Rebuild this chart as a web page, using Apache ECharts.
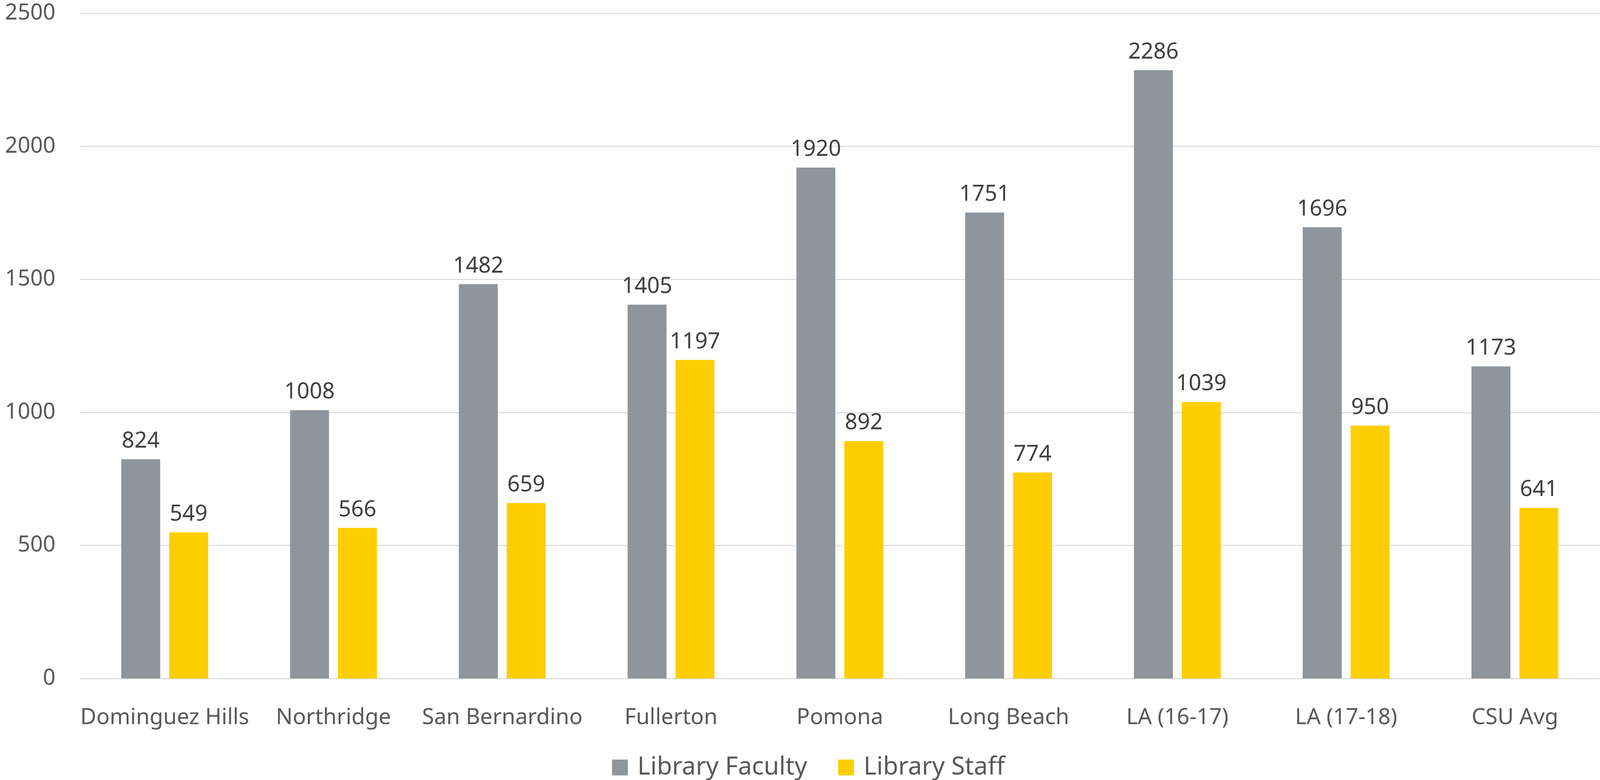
<!DOCTYPE html>
<html>
<head>
<meta charset="utf-8">
<script src="https://cdn.jsdelivr.net/npm/echarts@6/dist/echarts.min.js"></script>
<style>
html,body{margin:0;padding:0;background:#fff;overflow:hidden;}
#chart{width:100vw;height:100vh;}
</style>
</head>
<body>
<div id="chart"></div>
<script>
const categories = ['Dominguez Hills','Northridge','San Bernardino','Fullerton','Pomona','Long Beach','LA (16-17)','LA (17-18)','CSU Avg'];
const facultyValues = [824, 1008, 1482, 1405, 1920, 1751, 2286, 1696, 1173];
const staffValues = [549, 566, 659, 1197, 892, 774, 1039, 950, 641];
const yTicks = { min: 0, max: 2500, interval: 500 };

const FONT = "'Noto Sans', 'Open Sans', sans-serif";
const el = document.getElementById('chart');
const W = el.clientWidth, H = el.clientHeight;
const sx = W / 4642, sy = H / 1997, s = Math.min(sx, sy);
const chart = echarts.init(el, null, { renderer: 'canvas' });
chart.setOption({
  backgroundColor: '#ffffff',
  animation: false,
  textStyle: { fontFamily: FONT },
  grid: { left: 233 * sx, right: 2 * sx, top: 34 * sy, bottom: 260 * sy, containLabel: false },
  legend: {
    left: 1770 * sx,
    top: 1928 * sy,
    icon: 'rect',
    itemWidth: 46 * s,
    itemHeight: 46 * s,
    itemGap: 90 * sx,
    textStyle: { fontFamily: FONT, fontSize: 72 * s, color: '#595959', padding: [0, 0, 0, 22 * sx] },
    data: ['Library Faculty', 'Library Staff']
  },
  xAxis: {
    type: 'category',
    data: categories,
    axisLine: { show: true, lineStyle: { color: '#d9d9d9', width: 3 * s } },
    axisTick: { show: false },
    axisLabel: { fontFamily: FONT, fontSize: 64 * s, color: '#595959', margin: 73 * sy, interval: 0 },
    splitLine: { show: false }
  },
  yAxis: {
    type: 'value',
    min: yTicks.min,
    max: yTicks.max,
    interval: yTicks.interval,
    axisLine: { show: false },
    axisTick: { show: false },
    axisLabel: { fontFamily: FONT, fontSize: 64 * s, color: '#595959', margin: 72 * sx, formatter: v => String(v) },
    splitLine: { show: true, lineStyle: { color: '#d9d9d9', width: 3 * s } }
  },
  series: [
    {
      name: 'Library Faculty',
      type: 'bar',
      data: facultyValues,
      barWidth: 113 * sx,
      barGap: '23%',
      itemStyle: { color: '#8e959d' },
      label: { show: true, position: 'top', distance: 18 * sy, fontFamily: FONT, fontSize: 64 * s, color: '#404040' }
    },
    {
      name: 'Library Staff',
      type: 'bar',
      data: staffValues,
      barWidth: 113 * sx,
      barGap: '23%',
      itemStyle: { color: '#ffce00' },
      label: { show: true, position: 'top', distance: 18 * sy, fontFamily: FONT, fontSize: 64 * s, color: '#404040' }
    }
  ]
});
</script>
</body>
</html>
